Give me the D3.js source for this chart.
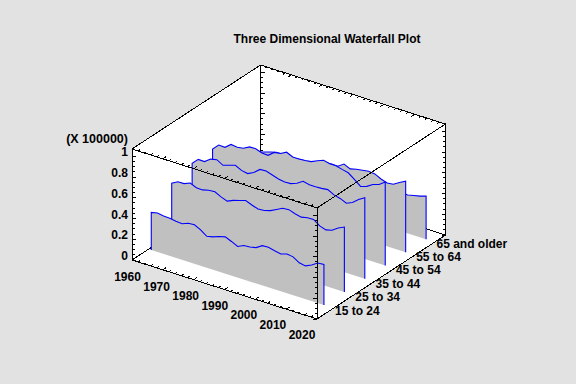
<!DOCTYPE html>
<html><head><meta charset="utf-8">
<script src="https://cdn.jsdelivr.net/npm/d3@7"></script>
<style>html,body{margin:0;padding:0;background:#e2e2e2}svg{display:block}
text{font-family:"Liberation Sans",Arial,sans-serif;font-weight:bold;font-size:12px;fill:#000}</style>
</head><body><svg id="c" width="576" height="384"></svg>
<script>
const title = "Three Dimensional Waterfall Plot";
const multiplier = "(X 100000)";
const categories = ["15 to 24","25 to 34","35 to 44","45 to 54","55 to 64","65 and older"];
const yearTicks = [1960,1970,1980,1990,2000,2010,2020];
const zTicks = [0,0.2,0.4,0.6,0.8,1];
const years = [1960,1962,1964,1966,1968,1970,1972,1974,1976,1978,1980,1982,1984,1986,1988,1990,1992,1994,1996,1998,2000,2002,2004,2006,2008,2010,2012,2014,2016];
const age15to24 = [.363,.375,.365,.364,.354,.348,.372,.376,.346,.303,.316,.339,.354,.329,.299,.328,.332,.345,.383,.387,.372,.359,.378,.370,.331,.321,.349,.387,.392];
const age25to34 = [.516,.549,.551,.575,.549,.547,.563,.567,.537,.515,.541,.559,.578,.553,.533,.538,.556,.586,.617,.622,.601,.588,.601,.604,.560,.541,.556,.597,.625];
const age35to44 = [.581,.638,.636,.679,.692,.657,.677,.695,.665,.653,.683,.731,.735,.715,.695,.685,.689,.712,.750,.735,.735,.738,.745,.713,.698,.671,.697,.744,.780];
const age45to54 = [.592,.649,.646,.693,.685,.694,.726,.727,.705,.702,.749,.758,.789,.762,.762,.765,.774,.802,.825,.811,.810,.794,.780,.735,.686,.706,.743,.762,.804];
const age55to64 = [.453,.472,.472,.501,.511,.531,.550,.566,.569,.565,.564,.573,.573,.586,.609,.617,.623,.622,.661,.634,.649,.659,.667,.661,.631,.612,.618,.654,.686];
const age65plus = [.251,.260,.260,.270,.270,.270,.280,.280,.280,.280,.289,.289,.299,.299,.308,.308,.318,.318,.328,.328,.337,.337,.347,.357,.376,.368,.382,.396,.415];
const seriesValues = [age15to24,age25to34,age35to44,age45to54,age55to64,age65plus];

// oblique projection built from three d3 scales
const O = {x:132, y:260};
const yearX = d3.scaleLinear().domain([1960,2020]).range([0,185]);
const yearY = d3.scaleLinear().domain([1960,2020]).range([0,59]);
const depthX = d3.scaleLinear().domain([-0.15/0.159,(1-0.15)/0.159]).range([0,128.5]); // category index -> px
const depthY = d3.scaleLinear().domain([-0.119/0.157,(1-0.119)/0.157]).range([0,84]);
const zY = d3.scaleLinear().domain([0,1.07]).range([0,111]);
const P = (yr,k,z) => [O.x+yearX(yr)+depthX(k), O.y+yearY(yr)-depthY(k)-zY(z)];
// box corner: depth fraction f in 0..1
const B = (yr,f,z) => [O.x+yearX(yr)+128.5*f, O.y+yearY(yr)-84*f-zY(z)];
const zTop = 1.07;
const yearLabelX = d3.scaleLinear().domain([1960,2020]).range([127.5,302]);
const yearLabelY = d3.scaleLinear().domain([1960,2020]).range([281,338.5]);

const svg = d3.select("#c");
const line = d3.line();
const drawLine = (g,a,b,w=1)=>g.append("line").attr("x1",a[0]).attr("y1",a[1]).attr("x2",b[0]).attr("y2",b[1])
  .attr("stroke","#000").attr("stroke-width",w).attr("shape-rendering","crispEdges");

svg.append("rect").attr("width",576).attr("height",384).attr("fill","#e2e2e2");
svg.append("text").attr("x",327).attr("y",42.5).attr("text-anchor","middle").text(title);

// white box faces
svg.append("path").attr("fill","#fff").attr("d",line([
  B(1960,0,zTop),B(1960,1,zTop),B(2020,1,zTop),B(2020,1,0),B(2020,0,0),B(1960,0,0)])+"Z");

const back = svg.append("g");
[[B(1960,0,zTop),B(1960,1,zTop)],[B(1960,1,zTop),B(2020,1,zTop)],[B(2020,1,zTop),B(2020,1,0)],
 [B(1960,0,zTop),B(1960,0,0)],[B(1960,1,zTop),B(1960,1,0)],[B(1960,0,0),B(1960,1,0)],[B(1960,1,0),B(2020,1,0)]]
 .forEach(([a,b])=>drawLine(back,a,b));

function zAxisTicks(g,yr,f,dir){
  d3.range(0,21).forEach(i=>{const z=i*0.05; const p=B(yr,f,z); const len=(i%4===0)?4:2.5;
    drawLine(g,p,[p[0]+dir*len,p[1]]);});
}
function yearAxisTicks(g,f,z,sign){
  d3.range(1960,2021,2).forEach(yr=>{const p=B(yr,f,z); const len=(yr%10===0)?4:2.5;
    drawLine(g,p,[p[0]+sign*len*0.84,p[1]-sign*len*0.55]);});
}
zAxisTicks(back,1960,0,1); zAxisTicks(back,1960,1,1); zAxisTicks(back,2020,1,-1);
yearAxisTicks(back,1,zTop,-1);

// waterfall panels, back to front
const panels = svg.append("g");
d3.range(categories.length-1,-1,-1).forEach(k=>{
  const vals = seriesValues[k];
  const top = years.map((yr,i)=>P(yr,k,vals[i]));
  const first = P(years[0],k,0), last = P(years[years.length-1],k,0);
  panels.append("path").attr("fill","#c0c0c0").attr("stroke","none")
    .attr("d",line([first,...top,last])+"Z");
  panels.append("path").attr("fill","none").attr("stroke","#0000ff").attr("stroke-width",1.1)
    .attr("d",line([first,...top,last]));
});

// front edges
const front = svg.append("g");
[[B(1960,0,zTop),B(2020,0,zTop)],[B(2020,0,zTop),B(2020,1,zTop)],[B(2020,0,zTop),B(2020,0,0)],
 [B(1960,0,0),B(2020,0,0)],[B(2020,0,0),B(2020,1,0)]].forEach(([a,b])=>drawLine(front,a,b));
zAxisTicks(front,2020,0,-1);
yearAxisTicks(front,0,zTop,1);
yearAxisTicks(front,0,0,1);

// labels
zTicks.forEach(z=>{ const p=B(1960,0,z);
  svg.append("text").attr("x",p[0]-4).attr("y",p[1]).attr("text-anchor","end").text(z); });
svg.append("text").attr("x",128).attr("y",143).attr("text-anchor","end").style("font-size","12.5px").text(multiplier);
yearTicks.forEach(yr=>{
  svg.append("text").attr("x",yearLabelX(yr)).attr("y",yearLabelY(yr)).attr("text-anchor","middle").text(yr); });
categories.forEach((c,k)=>{
  svg.append("text").attr("x",335+20.3*k).attr("y",314.5-13.4*k).text(c); });
</script></body></html>
